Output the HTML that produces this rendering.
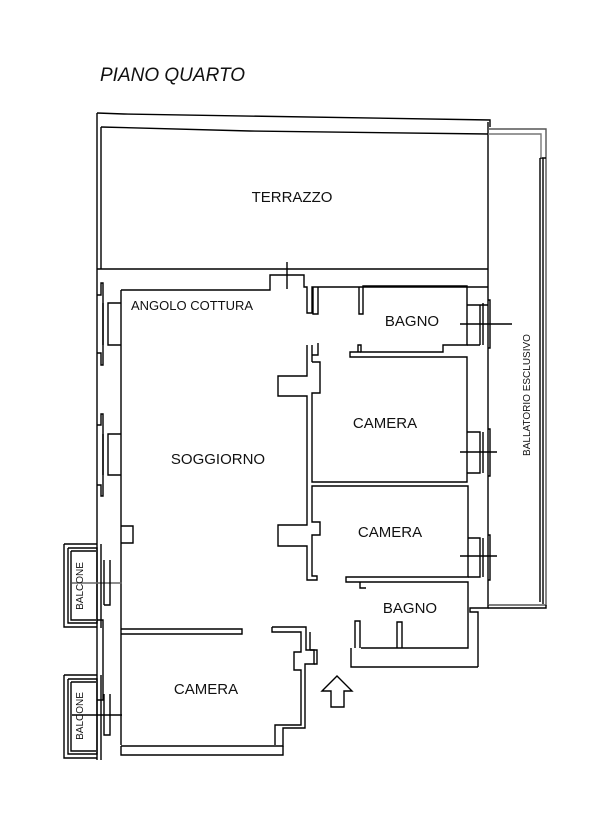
<!DOCTYPE html>
<html><head><meta charset="utf-8"><style>
html,body{margin:0;padding:0;background:#fff;width:615px;height:840px;overflow:hidden}
svg{display:block}
text{font-family:"Liberation Sans",sans-serif;fill:#111}
</style></head><body>
<svg width="615" height="840" viewBox="0 0 615 840" xmlns="http://www.w3.org/2000/svg">
<text x="100" y="81" font-size="19" font-style="italic">PIANO QUARTO</text>
<g fill="none" stroke="#000" stroke-width="1.4">
<!-- terrazzo -->
<path d="M97,113 L124,114 L490,120 L490,127"/>
<path d="M101,127 L101,269"/>
<path d="M101,127 L250,131 L488,134"/>
<path d="M97,113 L97,760"/>
<path d="M488,122 L488,605"/>
<path d="M97,269 L488,269"/>
<!-- ballatoio -->
<path d="M488,129 L546,129 L546,605 L488,605" stroke="#555"/>
<path d="M540,158 L540,602 M543,158 L543,604 M540,158 L546,158"/>
<path d="M488,134 L541,134 L541,158" stroke="#777"/>
<path d="M488,605 L488,608 L470,608 L470,612 L478,612 L478,667" />
<path d="M546,605 L546,608 L488,608"/>
<!-- top inner wall -->
<path d="M121,290 L270,290 L270,275 L304,275 L304,287 L307,287 L307,313 L312,313 L312,287 L488,287"/>
<path d="M287,262 L287,289"/>
<path d="M121,290 L121,745"/>
<!-- left windows -->
<path d="M121,303 L108,303 L108,345 L121,345 M103,303 L103,345"/>
<path d="M97,295 L101,295 L101,283 L103,283 L103,365 L101,365 L101,353 L97,353"/>
<path d="M121,434 L108,434 L108,475 L121,475 M103,434 L103,475"/>
<path d="M97,425 L101,425 L101,414 L103,414 L103,496 L101,496 L101,485 L97,485"/>
<!-- soggiorno right wall -->
<path d="M307,345 L307,376 L278,376 L278,396 L307,396 L307,525 L278,525 L278,546 L307,546 L307,580 L317,580 L317,576 L312,576 L312,535 L320,535 L320,522 L312,522 L312,486 L468,486 L468,577 L346,577 L346,582 L360,582"/>
<path d="M312,345 L312,355 L318,355 L318,343 M312,355 L312,362"/>
<path d="M312,362 L320,362 L320,393 L312,393 L312,482 L467,482 L467,357 L350,357 L350,352 L361,352"/>
<!-- bagno 1 -->
<path d="M313,287 L313,314 L318,314 L318,287"/>
<path d="M359,287 L359,314 L363,314 L363,286 L467,286 L467,345 L443,345 L443,352 L361,352 L361,345 L358,345 L358,352"/>
<path d="M467,305 L480,305 L480,345 M467,345 L480,345 M480,305 L488,305"/>
<path d="M483,303 L483,345 M488,300 L490,300 L490,348 L488,348"/>
<path d="M460,324 L512,324"/>
<!-- camera window -->
<path d="M467,432 L480,432 L480,473 L467,473 M483,432 L483,473 M488,429 L490,429 L490,476 L488,476"/>
<path d="M460,452 L497,452"/>
<path d="M468,538 L480,538 L480,577 L468,577 M483,538 L483,577 M488,535 L490,535 L490,580 L488,580"/>
<path d="M460,556 L497,556"/>
<!-- bagno 2 -->
<path d="M360,582 L468,582 L468,648 L361,648"/>
<path d="M360,582 L360,588 L366,588"/>
<path d="M355,648 L355,621 L360,621 L360,648 M397,648 L397,622 L402,622 L402,648"/>
<path d="M351,648 L351,667 L478,667"/>
<!-- bottom camera -->
<path d="M121,629 L242,629 L242,634 L121,634"/>
<path d="M272,627 L306,627 L306,650 L314,650 L314,664 L305,664 L305,728 L283,728 L283,746 L121,746"/>
<path d="M272,627 L272,632 L301,632 L301,652 L294,652 L294,670 L301,670 L301,725 L275,725 L275,745"/>
<path d="M310,650 L317,650 L317,664 L314,664 M310,650 L310,632"/>
<path d="M121,746 L121,755 L283,755 L283,746"/>
<!-- left lower bumps -->
<path d="M121,526 L133,526 L133,543 L121,543"/>
<!-- balconi -->
<path d="M64,544 L97,544 M64,544 L64,627 L97,627 M68,548 L97,548 L97,623 L68,623 L68,548 M71,551 L96,551 M71,551 L71,620 L96,620"/>
<path d="M72,583 L122,583" stroke="#666"/>
<path d="M101,544 L101,628 M104,560 L104,605 M104,605 L110,605 L110,560 M97,620 L103,620 L103,700 L97,700" />
<path d="M64,675 L97,675 M64,675 L64,758 L97,758 M68,679 L97,679 L97,754 L68,754 L68,679 M71,682 L96,682 M71,682 L71,751 L96,751"/>
<path d="M72,715 L122,715"/>
<path d="M101,675 L101,760 M104,694 L104,735 L110,735 L110,694"/>
<!-- arrow -->
<path d="M322,691 L337,676 L352,691 L344,691 L344,707 L331,707 L331,691 Z"/>
</g>
<text x="292" y="202" font-size="15" text-anchor="middle">TERRAZZO</text>
<text x="131" y="310" font-size="13">ANGOLO COTTURA</text>
<text x="218" y="464" font-size="15" text-anchor="middle">SOGGIORNO</text>
<text x="412" y="326" font-size="15" text-anchor="middle">BAGNO</text>
<text x="385" y="428" font-size="15" text-anchor="middle">CAMERA</text>
<text x="390" y="537" font-size="15" text-anchor="middle">CAMERA</text>
<text x="410" y="613" font-size="15" text-anchor="middle">BAGNO</text>
<text x="206" y="694" font-size="15" text-anchor="middle">CAMERA</text>
<text transform="translate(530,395) rotate(-90)" font-size="10" text-anchor="middle">BALLATORIO ESCLUSIVO</text>
<text transform="translate(83,586) rotate(-90)" font-size="10" text-anchor="middle">BALCONE</text>
<text transform="translate(83,716) rotate(-90)" font-size="10" text-anchor="middle">BALCONE</text>
</svg>
</body></html>
